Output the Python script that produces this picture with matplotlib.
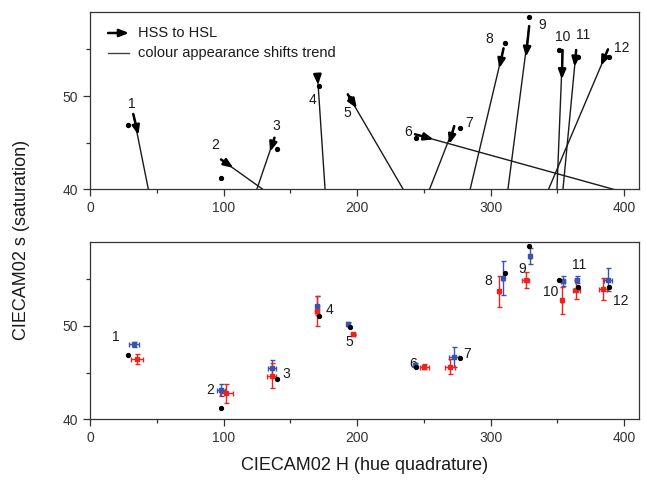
import numpy as np
import matplotlib.pyplot as plt

plt.rcParams['font.family'] = ['Liberation Sans', 'DejaVu Sans']

# sample ids
ids = [str(i) for i in range(1, 13)]

# black dots (shared by both panels)
blk_h = [28.2, 98.1, 140.0, 171.8, 194.8, 244.2, 277.2, 310.4, 328.8, 351.3, 365.3, 388.8]
blk_s = [46.86, 41.24, 44.29, 51.07, 49.82, 45.55, 46.53, 55.65, 58.5, 54.93, 54.15, 54.15]

# HSS (blue) with errors
hss_h = [33.0, 98.1, 136.6, 170.3, 193.0, 243.5, 272.7, 309.1, 329.4, 354.3, 364.5, 387.8]
hss_s = [48.0, 43.14, 45.46, 52.14, 50.18, 45.8, 46.71, 55.11, 57.5, 54.82, 54.93, 54.93]
hss_herr = [3.6, 3.0, 3.0, 1.0, 0.8, 1.0, 3.7, 0.8, 0.8, 1.5, 1.2, 3.0]
hss_serr = [0.3, 0.64, 0.93, 1.0, 0.2, 0.2, 1.07, 1.84, 0.86, 0.54, 0.36, 1.2]

# HSL (red) with errors
hsl_h = [35.0, 101.9, 136.1, 170.3, 197.2, 250.4, 269.7, 306.4, 326.1, 353.3, 364.0, 383.8]
hsl_s = [46.43, 42.78, 44.67, 51.57, 49.07, 45.64, 45.64, 53.68, 54.86, 52.71, 53.86, 53.93]
hsl_herr = [4.5, 4.9, 3.5, 1.5, 1.5, 3.7, 3.7, 0.8, 2.7, 0.8, 2.7, 3.0]
hsl_serr = [0.55, 1.0, 1.34, 1.6, 0.1, 0.3, 0.8, 1.64, 0.84, 1.43, 1.0, 1.16]

# top panel arrows (HSS -> HSL) and where the trend line meets s = 40
arr_h0 = [32.4, 98.1, 138.1, 170.3, 193.0, 243.4, 272.7, 309.6, 328.8, 353.8, 364.0, 387.8]
arr_s0 = [48.07, 43.2, 45.53, 52.25, 50.18, 45.9, 46.78, 55.11, 57.5, 54.93, 54.93, 55.0]
arr_h1 = [36.2, 107.3, 134.8, 170.8, 199.8, 257.2, 268.9, 306.4, 326.4, 353.3, 362.8, 382.5]
arr_s1 = [45.82, 42.3, 44.03, 51.2, 48.68, 45.36, 44.85, 52.97, 54.2, 51.79, 53.14, 53.25]
trend_h40 = [43.7, 129.4, 124.9, 176.0, 234.5, 392.0, 254.2, 284.6, 312.9, 349.6, 354.1, 343.3]

# label positions
top_lab_h = [31.2, 93.6, 139.8, 166.8, 192.3, 238.4, 284.1, 299.1, 338.8, 354.1, 369.1, 398.3]
top_lab_s = [49.14, 44.75, 46.8, 49.57, 48.2, 46.17, 47.14, 56.08, 57.6, 56.36, 56.54, 55.11]
bot_lab_h = [19.5, 89.9, 146.8, 179.0, 194.2, 242.2, 282.6, 298.4, 323.4, 345.1, 366.5, 397.0]
bot_lab_s = [48.79, 43.12, 44.84, 51.65, 48.28, 45.93, 46.99, 54.75, 56.08, 53.6, 56.45, 52.7]

blue = '#3a52b0'
red = '#e8261f'
ink = '#1a1a1a'

fig = plt.figure(figsize=(6.46, 4.83), dpi=100)
ax1 = fig.add_axes([0.1393, 0.608, 0.8498, 0.367])
ax2 = fig.add_axes([0.1393, 0.132, 0.8498, 0.3677])

for ax in (ax1, ax2):
    ax.set_xlim(0, 411)
    ax.set_ylim(40, 59)
    ax.set_xticks([0, 100, 200, 300, 400])
    ax.set_xticks([50, 150, 250, 350], minor=True)
    ax.set_yticks([40, 50])
    ax.set_yticks([45, 55], minor=True)
    ax.tick_params(which='major', direction='out', length=5, width=0.9,
                   labelsize=10, colors='#333333')
    ax.tick_params(which='minor', direction='out', length=3, width=0.9, colors='#333333')
    for sp in ax.spines.values():
        sp.set_color('#333333')
        sp.set_linewidth(0.9)

# top panel: trend lines and arrows
for i in range(len(ids)):
    ax1.plot([arr_h0[i], trend_h40[i]], [arr_s0[i], 40], color=ink, lw=1.0, clip_on=True)
    ax1.annotate('', xy=(arr_h1[i], arr_s1[i]), xytext=(arr_h0[i], arr_s0[i]),
                 arrowprops=dict(arrowstyle='-|>,head_length=0.55,head_width=0.22',
                                 lw=1.8, color='black', shrinkA=0, shrinkB=0,
                                 mutation_scale=10))
    ax1.text(top_lab_h[i], top_lab_s[i], ids[i], fontsize=10, ha='center', va='center', color=ink)
ax1.plot(blk_h, blk_s, 'o', color='black', ms=2.8, zorder=5)

# legend drawn by hand
ax1.annotate('', xy=(0.071, 0.882), xytext=(0.033, 0.882), xycoords='axes fraction',
             arrowprops=dict(arrowstyle='-|>,head_length=0.55,head_width=0.22',
                             lw=1.8, color='black', shrinkA=0, shrinkB=0, mutation_scale=10))
ax1.text(0.087, 0.882, 'HSS to HSL', transform=ax1.transAxes, fontsize=10.5,
         va='center', color=ink)
ax1.plot([0.033, 0.071], [0.770, 0.770], color='#444444', lw=1.0, transform=ax1.transAxes)
ax1.text(0.087, 0.770, 'colour appearance shifts trend', transform=ax1.transAxes,
         fontsize=10.5, va='center', color=ink)

# bottom panel
ax2.errorbar(hss_h, hss_s, xerr=hss_herr, yerr=hss_serr, fmt='s', color=blue, ms=3,
             elinewidth=1, capsize=1.8, capthick=1, zorder=3)
ax2.errorbar(hsl_h, hsl_s, xerr=hsl_herr, yerr=hsl_serr, fmt='s', color=red, ms=3,
             elinewidth=1, capsize=1.8, capthick=1, zorder=3)
ax2.plot(blk_h, blk_s, 'o', color='black', ms=2.8, zorder=4)
for i in range(len(ids)):
    ax2.text(bot_lab_h[i], bot_lab_s[i], ids[i], fontsize=10, ha='center', va='center', color=ink)

fig.text(0.034, 0.503, 'CIECAM02 s (saturation)', rotation=90, ha='center', va='center',
         fontsize=13, color=ink)
fig.text(0.565, 0.036, 'CIECAM02 H (hue quadrature)', ha='center', va='center',
         fontsize=13, color=ink)

fig.savefig('out.png', dpi=100)
